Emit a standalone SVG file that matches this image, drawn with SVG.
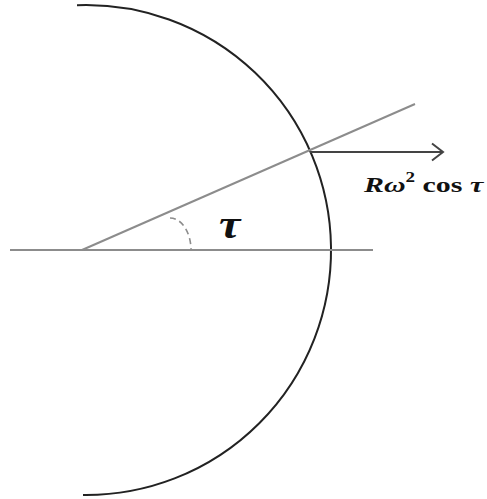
<svg xmlns="http://www.w3.org/2000/svg" width="487" height="499" viewBox="0 0 487 499">
<style>
.gray{stroke:#8c8c8c;stroke-width:2;fill:none}
.dark{stroke:#222;stroke-width:2;fill:none}
.arr{stroke:#444;stroke-width:2;fill:none}
.dash{stroke:#8c8c8c;stroke-width:1.6;fill:none;stroke-dasharray:6 4}
.lbl{font-family:"Liberation Serif","Times New Roman",serif;font-weight:bold;fill:#111}
</style>
<rect width="487" height="499" fill="#fff"/>
<g id="circle"><path class="dark" d="M 77 5.165 A 245 245 0 1 1 83 494.98"/></g>
<g id="connectors">
<line class="gray" x1="10" y1="250" x2="373" y2="250"/>
<line class="gray" x1="82" y1="250" x2="415" y2="104"/>
<path class="dash" d="M 170 218 A 21 32 0 0 1 191 250"/>
<line class="arr" x1="310" y1="152" x2="443" y2="152"/>
<polyline class="arr" points="432,143.5 443,152 432,160.5"/>
</g>
<g id="label-tau"><text class="lbl" font-style="italic" font-size="40" transform="translate(219,238) scale(1.2,1)">τ</text></g>
<g id="label-force"><text class="lbl" font-size="22" transform="translate(364,191.5) scale(1.36,1)"><tspan font-style="italic">Rω</tspan><tspan font-size="14" dy="-10">2</tspan><tspan dy="10"> cos </tspan><tspan font-style="italic">τ</tspan></text></g>
</svg>
